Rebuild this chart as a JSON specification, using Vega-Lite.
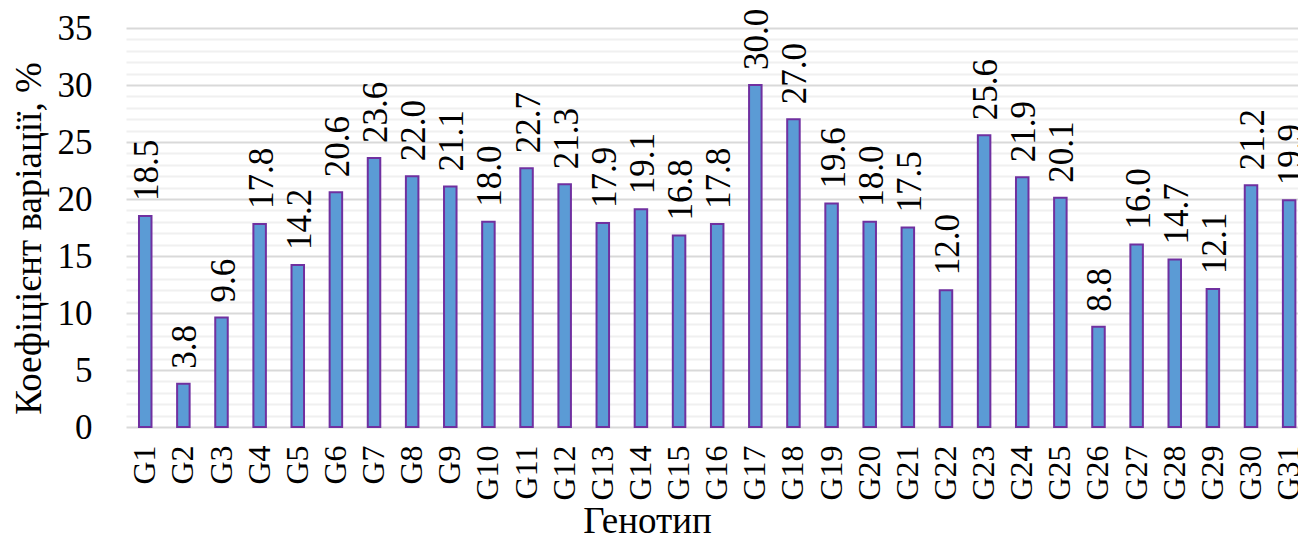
{
  "$schema": "https://vega.github.io/schema/vega-lite/v6.json",
  "autosize": {"type": "none"},
  "padding": {"left": 126, "top": 28, "right": 0, "bottom": 110},
  "width": 1172,
  "height": 399,
  "background": "white",
  "config": {
    "view": {"stroke": null},
    "font": "Liberation Serif",
    "axis": {"labelFont": "Liberation Serif", "titleFont": "Liberation Serif", "labelColor": "black", "titleColor": "black", "titleFontWeight": "normal"}
  },
  "data": {
    "values": [
      {"g": "G1", "v": 18.5}, {"g": "G2", "v": 3.8}, {"g": "G3", "v": 9.6}, {"g": "G4", "v": 17.8},
      {"g": "G5", "v": 14.2}, {"g": "G6", "v": 20.6}, {"g": "G7", "v": 23.6}, {"g": "G8", "v": 22.0},
      {"g": "G9", "v": 21.1}, {"g": "G10", "v": 18.0}, {"g": "G11", "v": 22.7}, {"g": "G12", "v": 21.3},
      {"g": "G13", "v": 17.9}, {"g": "G14", "v": 19.1}, {"g": "G15", "v": 16.8}, {"g": "G16", "v": 17.8},
      {"g": "G17", "v": 30.0}, {"g": "G18", "v": 27.0}, {"g": "G19", "v": 19.6}, {"g": "G20", "v": 18.0},
      {"g": "G21", "v": 17.5}, {"g": "G22", "v": 12.0}, {"g": "G23", "v": 25.6}, {"g": "G24", "v": 21.9},
      {"g": "G25", "v": 20.1}, {"g": "G26", "v": 8.8}, {"g": "G27", "v": 16.0}, {"g": "G28", "v": 14.7},
      {"g": "G29", "v": 12.1}, {"g": "G30", "v": 21.2}, {"g": "G31", "v": 19.9}
    ]
  },
  "encoding": {
    "x": {
      "field": "g", "type": "nominal", "sort": null,
      "scale": {"type": "band", "paddingInner": 0.672, "paddingOuter": 0.2045, "align": 0.833},
      "axis": {
        "title": "Генотип", "titleFontSize": 37, "titleX": 521, "titleY": 105, "titleAnchor": null, "titleAlign": "center", "titleBaseline": "alphabetic",
        "labelAngle": 270, "labelFontSize": 32, "labelPadding": 18, "ticks": false, "domain": false, "grid": false, "labelOverlap": false
      }
    },
    "y": {
      "field": "v", "type": "quantitative",
      "scale": {"domain": [0, 35], "nice": false},
      "axis": {
        "title": "Коефіцієнт варіації, %", "titleFontSize": 37, "titleAngle": 270, "titleX": -86, "titleY": 210, "titleAlign": "center", "titleBaseline": "alphabetic",
        "values": [0,1,2,3,4,5,6,7,8,9,10,11,12,13,14,15,16,17,18,19,20,21,22,23,24,25,26,27,28,29,30,31,32,33,34,35],
        "labelExpr": "datum.value % 5 === 0 ? datum.label : ''",
        "labelFontSize": 35, "labelPadding": 34, "ticks": false, "domain": false, "grid": true, "labelOverlap": false,
        "gridColor": {"condition": {"test": "datum.value % 5 === 0", "value": "#d9d9d9"}, "value": "#f0f0f0"},
        "gridWidth": 2
      }
    }
  },
  "layer": [
    {"mark": {"type": "bar", "fill": "#5B9BD5", "stroke": "#7030A0", "strokeWidth": 2}},
    {"mark": {"type": "text", "angle": 270, "align": "left", "baseline": "middle", "dx": 15, "dy": 2, "fontSize": 35, "font": "Liberation Serif", "color": "black"},
     "encoding": {"text": {"field": "v", "type": "quantitative", "format": ".1f"}}}
  ]
}
